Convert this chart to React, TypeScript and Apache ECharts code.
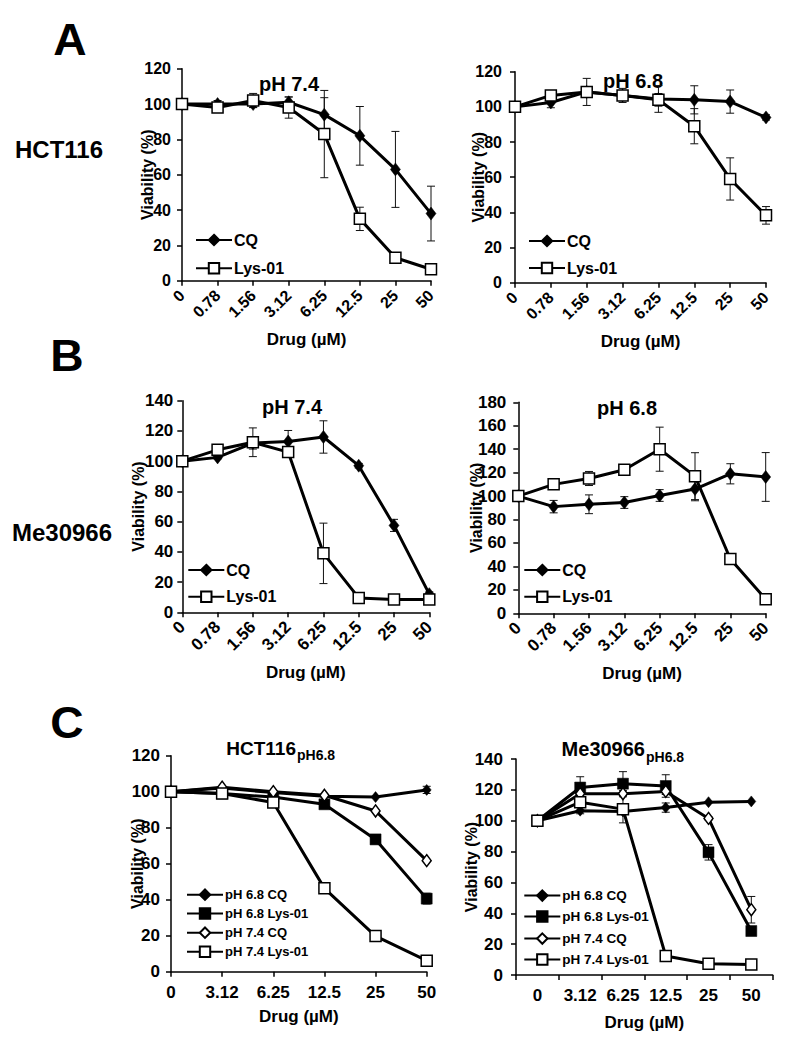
import React, { useEffect, useRef } from "react";
import * as echarts from "echarts";

const FONT = "Arial, 'Liberation Sans', Helvetica, sans-serif";

// ---------- tick / category labels ----------
const doseAB = ["0", "0.78", "1.56", "3.12", "6.25", "12.5", "25", "50"];
const doseC = ["0", "3.12", "6.25", "12.5", "25", "50"];

// ---------- Panel A: HCT116 ----------
const aL_CQ = [100, 100, 100, 101, 94, 82, 63, 38];
const aL_CQ_err = [0, 2, 2, 3, 9.6, 16.6, 21.5, 15.5];
const aL_Lys = [100, 98, 102, 98, 83, 35, 13, 6.5];
const aL_Lys_err = [0, 1, 4, 6, 24.7, 6.6, 1.5, 1];

const aR_CQ = [100, 102.5, 108.5, 106.5, 104.5, 104, 103, 94];
const aR_CQ_err = [0, 3, 2, 2, 7.6, 8, 6.6, 1.5];
const aR_Lys = [100, 106.5, 108.5, 106.5, 104, 89, 59, 38.3];
const aR_Lys_err = [0, 1, 7.7, 4, 3.6, 10, 12, 5];

// ---------- Panel B: Me30966 ----------
const bL_CQ = [100, 102.5, 112, 113, 116, 97, 57.5, 12];
const bL_CQ_err = [0, 1, 4, 7.3, 10.7, 1.5, 4, 1.5];
const bL_Lys = [100, 107.5, 112.5, 106, 39, 9.5, 8.5, 8.5];
const bL_Lys_err = [0, 1, 9.5, 1, 20, 0.5, 0.5, 0.5];

const bR_CQ = [100, 91, 93, 94.5, 100.5, 106, 119, 116.3];
const bR_CQ_err = [0, 5.3, 8, 5, 5, 10, 8.6, 20.8];
const bR_Lys = [100, 110, 115, 122.5, 140, 117, 46.3, 12];
const bR_Lys_err = [0, 1, 6, 1, 18.8, 20, 4, 1];

// ---------- Panel C ----------
const cL_68CQ = [100, 102, 99.5, 97.5, 97, 101];
const cL_68CQ_err = [0, 0, 0, 0, 0, 2];
const cL_68Lys = [100, 99, 97, 93, 73.5, 40.6];
const cL_68Lys_err = [0, 0, 0, 0, 1.5, 3];
const cL_74CQ = [100, 102.5, 100, 98, 89.3, 61.7];
const cL_74CQ_err = [0, 0, 0, 0, 0, 0];
const cL_74Lys = [100, 99, 94, 46.3, 19.8, 6.1];
const cL_74Lys_err = [0, 0, 0, 0, 0, 0];

const cR_68CQ = [100, 106.5, 106, 108.5, 112, 112.5];
const cR_68CQ_err = [0, 2, 1, 3, 0, 0];
const cR_68Lys = [100, 121.5, 124, 122.5, 79.5, 28.5];
const cR_68Lys_err = [0, 7, 7.8, 7.3, 5, 2];
const cR_74CQ = [100, 117.5, 117.5, 119, 101.5, 42.3];
const cR_74CQ_err = [0, 2, 2, 2, 1, 8.6];
const cR_74Lys = [100, 112, 107.5, 12.3, 7.3, 6.8];
const cR_74Lys_err = [0, 3, 8.9, 1, 1, 1];

const NAME_CQ = "CQ";
const NAME_LYS = "Lys-01";
const NAME_68CQ = "pH 6.8 CQ";
const NAME_68LYS = "pH 6.8 Lys-01";
const NAME_74CQ = "pH 7.4 CQ";
const NAME_74LYS = "pH 7.4 Lys-01";

type Kind = "cqFilled" | "cqOpen" | "lysFilled" | "lysOpen";

const errRender = (params: any, api: any) => {
  const i = api.value(0);
  const v = api.value(1);
  const e = api.value(2);
  if (!e) return null;
  const top = api.coord([i, v + e]);
  const bot = api.coord([i, v - e]);
  const w = 4;
  const st = { stroke: "#111", lineWidth: 1 };
  return {
    type: "group",
    children: [
      { type: "line", shape: { x1: top[0], y1: top[1], x2: bot[0], y2: bot[1] }, style: st },
      { type: "line", shape: { x1: top[0] - w, y1: top[1], x2: top[0] + w, y2: top[1] }, style: st },
      { type: "line", shape: { x1: bot[0] - w, y1: bot[1], x2: bot[0] + w, y2: bot[1] }, style: st },
    ],
  };
};

function lineSeries(name: string, data: number[], kind: Kind, idx: number, size: any) {
  const isCQ = kind.startsWith("cq");
  const filled = kind.endsWith("Filled");
  return {
    type: "line",
    name,
    data,
    xAxisIndex: idx,
    yAxisIndex: idx,
    symbol: isCQ ? "diamond" : "rect",
    symbolSize: size,
    showAllSymbol: true,
    silent: true,
    z: 3,
    lineStyle: { color: "#000", width: 3 },
    itemStyle: {
      color: filled ? "#000" : "#fff",
      borderColor: "#000",
      borderWidth: filled ? 0.5 : 1.5,
    },
    emphasis: { disabled: true },
  };
}

function errSeries(vals: number[], errs: number[], idx: number) {
  return {
    type: "custom",
    xAxisIndex: idx,
    yAxisIndex: idx,
    silent: true,
    z: 2,
    renderItem: errRender,
    encode: { x: 0, y: 1 },
    data: vals.map((v, i) => [i, v, errs[i]]),
  };
}

interface PanelDef {
  l: number; t: number; r: number; b: number;
  cats: string[];
  yMax: number;
  boundaryGap: boolean;
  rotate: number;
  tickFont: number;
  yLabelMargin: number;
  xLabelMargin: number;
  yNameGap: number;
  xNameGap: number;
}

const panelDefs: PanelDef[] = [
  { l: 182, t: 68.7, r: 431, b: 280.7, cats: doseAB, yMax: 120, boundaryGap: false, rotate: 45, tickFont: 16, yLabelMargin: 11, xLabelMargin: 12, yNameGap: 27, xNameGap: 50 },
  { l: 515, t: 71.7, r: 766, b: 282.7, cats: doseAB, yMax: 120, boundaryGap: false, rotate: 45, tickFont: 16, yLabelMargin: 13, xLabelMargin: 12, yNameGap: 29, xNameGap: 50 },
  { l: 182.3, t: 400.7, r: 429.3, b: 612.3, cats: doseAB, yMax: 140, boundaryGap: false, rotate: 45, tickFont: 17, yLabelMargin: 9, xLabelMargin: 12, yNameGap: 36, xNameGap: 52 },
  { l: 518.3, t: 402.3, r: 765.7, b: 613.3, cats: doseAB, yMax: 180, boundaryGap: false, rotate: 45, tickFont: 17, yLabelMargin: 12, xLabelMargin: 12, yNameGap: 34, xNameGap: 52 },
  { l: 171, t: 755.7, r: 426.7, b: 971.7, cats: doseC, yMax: 120, boundaryGap: false, rotate: 0, tickFont: 17, yLabelMargin: 11, xLabelMargin: 12, yNameGap: 26, xNameGap: 36 },
  { l: 516, t: 759, r: 772.7, b: 975, cats: doseC, yMax: 140, boundaryGap: true, rotate: 0, tickFont: 17, yLabelMargin: 13, xLabelMargin: 12, yNameGap: 37, xNameGap: 39 },
];

function legendItem(name: string, left: number, cy: number, font: number, w: number) {
  return {
    show: true,
    data: [name],
    left,
    top: cy - font / 2,
    padding: 0,
    itemWidth: w,
    itemHeight: 13,
    itemGap: 0,
    selectedMode: false,
    textStyle: { fontSize: font, fontWeight: "bold", color: "#000", fontFamily: FONT, padding: [0, 0, 0, -3] },
  };
}

function txt(text: string, x: number, y: number, size: number, extra: any = {}) {
  return {
    type: "text",
    x,
    y,
    silent: true,
    ...extra,
    style: {
      text,
      fill: "#000",
      font: `bold ${size}px ${FONT}`,
      align: extra.align || "center",
      verticalAlign: "middle",
    },
  };
}

export default function App() {
  const ref = useRef<HTMLDivElement>(null);

  useEffect(() => {
    if (!ref.current) return;
    const chart = echarts.init(ref.current, undefined, { renderer: "svg" });

    const axisLine = { show: true, lineStyle: { color: "#000", width: 1.5 } };
    const axisTick = { show: true, length: 5, lineStyle: { color: "#000", width: 1.5 } };

    const grid = panelDefs.map((p) => ({
      left: p.l,
      top: p.t,
      width: p.r - p.l,
      height: p.b - p.t,
      containLabel: false,
      outerBoundsMode: "none",
    }));

    const xAxis = panelDefs.map((p, i) => ({
      type: "category",
      gridIndex: i,
      data: p.cats,
      boundaryGap: p.boundaryGap,
      axisLine,
      axisTick: { ...axisTick, alignWithLabel: false },
      splitLine: { show: false },
      axisLabel: {
        interval: 0,
        rotate: p.rotate,
        margin: p.xLabelMargin,
        color: "#000",
        fontSize: p.tickFont,
        fontWeight: "bold",
        fontFamily: FONT,
      },
      name: "Drug (\u00b5M)",
      nameLocation: "middle",
      nameGap: p.xNameGap,
      nameMoveOverlap: false,
      nameTextStyle: { color: "#000", fontSize: 17, fontWeight: "bold", fontFamily: FONT },
    }));

    const yAxis = panelDefs.map((p, i) => ({
      type: "value",
      gridIndex: i,
      min: 0,
      max: p.yMax,
      interval: 20,
      axisLine,
      axisTick,
      splitLine: { show: false },
      axisLabel: {
        margin: p.yLabelMargin,
        color: "#000",
        fontSize: p.tickFont,
        fontWeight: "bold",
        fontFamily: FONT,
      },
      name: "Viability (%)",
      nameLocation: "middle",
      nameGap: p.yNameGap,
      nameMoveOverlap: false,
      nameTextStyle: { color: "#000", fontSize: 16, fontWeight: "bold", fontFamily: FONT },
    }));

    const abSym = [10, 13];
    const series: any[] = [
      // A left
      errSeries(aL_CQ, aL_CQ_err, 0),
      errSeries(aL_Lys, aL_Lys_err, 0),
      lineSeries(NAME_CQ, aL_CQ, "cqFilled", 0, abSym),
      lineSeries(NAME_LYS, aL_Lys, "lysOpen", 0, 11),
      // A right
      errSeries(aR_CQ, aR_CQ_err, 1),
      errSeries(aR_Lys, aR_Lys_err, 1),
      lineSeries(NAME_CQ, aR_CQ, "cqFilled", 1, abSym),
      lineSeries(NAME_LYS, aR_Lys, "lysOpen", 1, 11),
      // B left
      errSeries(bL_CQ, bL_CQ_err, 2),
      errSeries(bL_Lys, bL_Lys_err, 2),
      lineSeries(NAME_CQ, bL_CQ, "cqFilled", 2, abSym),
      lineSeries(NAME_LYS, bL_Lys, "lysOpen", 2, 11),
      // B right
      errSeries(bR_CQ, bR_CQ_err, 3),
      errSeries(bR_Lys, bR_Lys_err, 3),
      lineSeries(NAME_CQ, bR_CQ, "cqFilled", 3, abSym),
      lineSeries(NAME_LYS, bR_Lys, "lysOpen", 3, 11),
      // C left
      errSeries(cL_68CQ, cL_68CQ_err, 4),
      errSeries(cL_68Lys, cL_68Lys_err, 4),
      errSeries(cL_74CQ, cL_74CQ_err, 4),
      errSeries(cL_74Lys, cL_74Lys_err, 4),
      lineSeries(NAME_68CQ, cL_68CQ, "cqFilled", 4, [9, 11]),
      lineSeries(NAME_68LYS, cL_68Lys, "lysFilled", 4, 11),
      lineSeries(NAME_74CQ, cL_74CQ, "cqOpen", 4, [9, 12]),
      lineSeries(NAME_74LYS, cL_74Lys, "lysOpen", 4, 11),
      // C right
      errSeries(cR_68CQ, cR_68CQ_err, 5),
      errSeries(cR_68Lys, cR_68Lys_err, 5),
      errSeries(cR_74CQ, cR_74CQ_err, 5),
      errSeries(cR_74Lys, cR_74Lys_err, 5),
      lineSeries(NAME_68CQ, cR_68CQ, "cqFilled", 5, [9, 11]),
      lineSeries(NAME_68LYS, cR_68Lys, "lysFilled", 5, 11),
      lineSeries(NAME_74CQ, cR_74CQ, "cqOpen", 5, [9, 12]),
      lineSeries(NAME_74LYS, cR_74Lys, "lysOpen", 5, 11),
    ];

    const legend = [
      legendItem(NAME_CQ, 195, 240, 16, 36),
      legendItem(NAME_LYS, 195, 268.3, 16, 36),
      legendItem(NAME_CQ, 528, 241, 16, 36),
      legendItem(NAME_LYS, 528, 268, 16, 36),
      legendItem(NAME_CQ, 187.3, 570, 16, 36),
      legendItem(NAME_LYS, 187.3, 596.7, 16, 36),
      legendItem(NAME_CQ, 523.3, 570, 16, 36),
      legendItem(NAME_LYS, 523.3, 596.7, 16, 36),
      legendItem(NAME_68CQ, 186, 894.7, 13, 36),
      legendItem(NAME_68LYS, 186, 913.5, 13, 36),
      legendItem(NAME_74CQ, 186, 932.7, 13, 36),
      legendItem(NAME_74LYS, 186, 951.7, 13, 36),
      legendItem(NAME_68CQ, 523.3, 895.3, 13.5, 36),
      legendItem(NAME_68LYS, 523.3, 916.3, 13.5, 36),
      legendItem(NAME_74CQ, 523.3, 938.3, 13.5, 36),
      legendItem(NAME_74LYS, 523.3, 959.3, 13.5, 36),
    ];

    const graphic = [
      txt("A", 70, 40, 44, { scaleX: 1.05 }),
      txt("B", 67, 356, 44, { scaleX: 1.05 }),
      txt("C", 67, 723, 44, { scaleX: 1.05 }),
      txt("HCT116", 59, 149, 24),
      txt("Me30966", 62, 532, 24),
      txt("pH 7.4", 289, 84, 20),
      txt("pH 6.8", 633, 81, 20),
      txt("pH 7.4", 292, 407, 20),
      txt("pH 6.8", 627, 408, 20),
      txt("HCT116", 296, 748, 19, { align: "right" }),
      txt("pH6.8", 297, 755, 14, { align: "left" }),
      txt("Me30966", 645, 749, 20, { align: "right" }),
      txt("pH6.8", 646, 757, 14, { align: "left" }),
    ];

    chart.setOption({
      animation: false,
      backgroundColor: "#fff",
      textStyle: { fontFamily: FONT },
      grid,
      xAxis,
      yAxis,
      legend,
      series,
      graphic,
    });

    return () => chart.dispose();
  }, []);

  return (
    <div
      ref={ref}
      style={{ position: "absolute", left: 0, top: 0, width: 790, height: 1048, background: "#fff" }}
    />
  );
}
